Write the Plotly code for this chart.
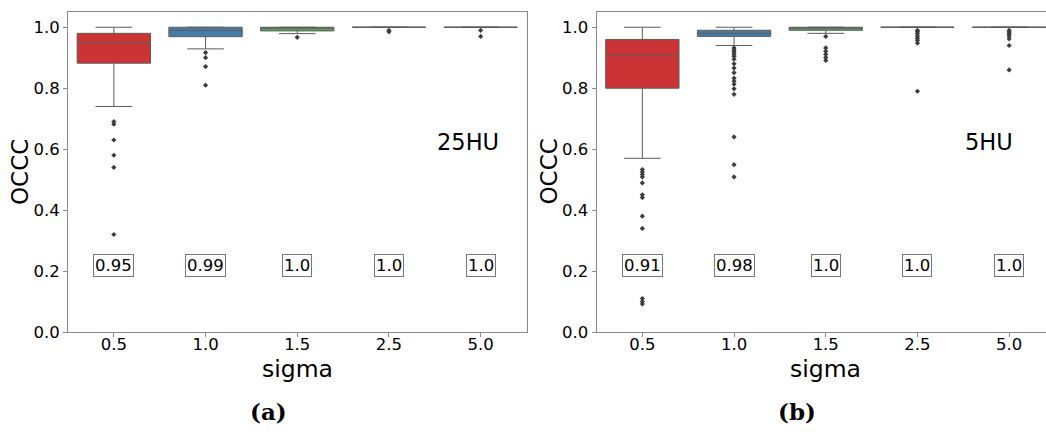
import plotly.graph_objects as go

# sigma levels shown on the x axis
sigma_labels = ["0.5", "1.0", "1.5", "2.5", "5.0"]

# OCCC box statistics, 25HU noise level
q1_25 = [0.882, 0.969, 0.988, 1.0, 1.0]
med_25 = [0.95, 0.99, 0.997, 1.0, 1.0]
q3_25 = [0.98, 1.0, 1.0, 1.0, 1.0]
lo_25 = [0.74, 0.929, 0.979, 1.0, 1.0]
hi_25 = [1.0, 1.0, 1.0, 1.0, 1.0]
out_25 = [
    [0.69, 0.682, 0.63, 0.58, 0.54, 0.32],
    [0.917, 0.90, 0.871, 0.81],
    [0.967],
    [0.99, 0.985],
    [0.99, 0.97],
]

# OCCC box statistics, 5HU noise level
q1_5 = [0.80, 0.97, 0.99, 1.0, 1.0]
med_5 = [0.91, 0.98, 0.997, 1.0, 1.0]
q3_5 = [0.96, 0.99, 1.0, 1.0, 1.0]
lo_5 = [0.57, 0.94, 0.98, 1.0, 1.0]
hi_5 = [1.0, 1.0, 1.0, 1.0, 1.0]
out_5 = [
    [0.533, 0.525, 0.517, 0.509, 0.489, 0.45, 0.441, 0.38, 0.34, 0.11, 0.10, 0.092],
    [0.932, 0.925, 0.919, 0.911, 0.904, 0.895, 0.88, 0.866, 0.851, 0.833,
     0.823, 0.813, 0.798, 0.78, 0.64, 0.549, 0.509],
    [0.97, 0.932, 0.921, 0.911, 0.901, 0.891],
    [0.99, 0.985, 0.979, 0.971, 0.964, 0.957, 0.948, 0.79],
    [0.99, 0.984, 0.978, 0.971, 0.962, 0.94, 0.86],
]

panel_tags = ["25HU", "5HU"]
panel_letters = ["(a)", "(b)"]

# desaturated Set1 palette
box_colors = ["#cb3335", "#477ca8", "#59a257", "#905998", "#e67f21"]
edge = "#5c5c5c"
axis_gray = "#8a8a8a"
W, H = 1046, 432
FONT = "DejaVu Sans"

# pixel geometry of the two panels
left_px = [(68, 527), (596.5, 1046)]
top_px, bot_px = 12, 332
unit_px = 91.7  # width of one category slot

fig = go.Figure()
panels = [
    (q1_25, med_25, q3_25, lo_25, hi_25, out_25),
    (q1_5, med_5, q3_5, lo_5, hi_5, out_5),
]
annotations = []

for p, (q1, med, q3, lo, hi, outs) in enumerate(panels):
    xa = "x" if p == 0 else "x2"
    ya = "y" if p == 0 else "y2"
    for i, lab in enumerate(sigma_labels):
        fig.add_trace(go.Box(
            x=[i], q1=[q1[i]], median=[med[i]], q3=[q3[i]],
            lowerfence=[lo[i]], upperfence=[hi[i]],
            width=0.8, whiskerwidth=0.5,
            fillcolor=box_colors[i], line=dict(color=edge, width=1.0),
            boxpoints=False, name=lab, showlegend=False,
            xaxis=xa, yaxis=ya,
        ))
        fig.add_trace(go.Scatter(
            x=[i] * len(outs[i]), y=outs[i], mode="markers",
            marker=dict(symbol="diamond", size=4, color="#3d3d3d"),
            showlegend=False, xaxis=xa, yaxis=ya, hoverinfo="y",
        ))
        annotations.append(dict(
            x=i, y=0.217, xref=xa, yref=ya, text=f"{round(med[i], 2)}",
            showarrow=False, font=dict(family=FONT, size=16.5, color="black"),
            bgcolor="white", bordercolor="#777777", borderwidth=1, borderpad=1,
        ))
    annotations.append(dict(
        x=3.5, y=0.624, xref=xa, yref=ya, text=panel_tags[p], xanchor="left",
        showarrow=False, font=dict(family=FONT, size=22.5, color="black"),
    ))

    x0, x1 = left_px[p]
    span = (x1 - x0) / unit_px
    axis_common = dict(showgrid=False, zeroline=False, showline=True,
                       linecolor=axis_gray, linewidth=1, ticks="outside",
                       ticklen=4, tickcolor=axis_gray,
                       tickfont=dict(family=FONT, size=16.5, color="black"))
    xkey = "xaxis" if p == 0 else "xaxis2"
    ykey = "yaxis" if p == 0 else "yaxis2"
    fig.update_layout({
        xkey: dict(axis_common, domain=[x0 / W, x1 / W], range=[-0.5, -0.5 + span],
                   tickvals=list(range(len(sigma_labels))), ticktext=sigma_labels,
                   ticklabelstandoff=-7, mirror=True, anchor=ya),
        ykey: dict(axis_common, domain=[(H - bot_px) / H, (H - top_px) / H],
                   range=[0, 1.05], tickvals=[0, 0.2, 0.4, 0.6, 0.8, 1.0],
                   tickformat=".1f", mirror=(p == 0), anchor=xa),
    })

    # axis titles and sub-figure letter
    cx = (x0 + (x0 + 5 * unit_px)) / 2
    annotations.append(dict(
        x=cx / W, y=(H - 369) / H, xref="paper", yref="paper", text="sigma",
        xanchor="center", yanchor="middle", showarrow=False,
        font=dict(family=FONT, size=23.5, color="black"),
    ))
    annotations.append(dict(
        x=(x0 - 48) / W, y=(H - 172) / H, xref="paper", yref="paper", text="OCCC",
        xanchor="center", yanchor="middle", textangle=-90, showarrow=False,
        font=dict(family=FONT, size=23, color="black"),
    ))
    annotations.append(dict(
        x=(x0 + 200) / W, y=(H - 411) / H, xref="paper", yref="paper",
        text=f"<b>{panel_letters[p]}</b>", xanchor="center", yanchor="middle",
        showarrow=False, font=dict(family="DejaVu Serif", size=23, color="black"),
    ))

fig.update_layout(
    width=W, height=H,
    margin=dict(l=0, r=0, t=0, b=0, autoexpand=False),
    paper_bgcolor="white", plot_bgcolor="white",
    annotations=annotations, showlegend=False,
)

fig.write_html("out.html")
